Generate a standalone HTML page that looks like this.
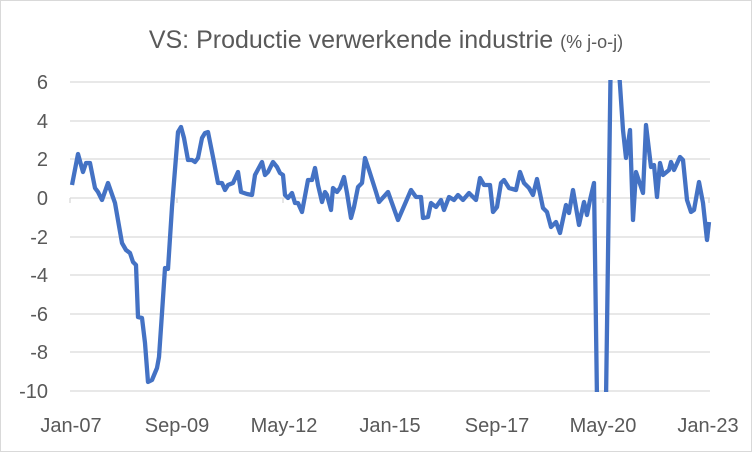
<!DOCTYPE html>
<html><head><meta charset="utf-8"><style>
html,body{margin:0;padding:0;background:#fff;overflow:hidden;width:752px;height:452px}
svg{display:block;font-family:"Liberation Sans",sans-serif}
</style></head><body>
<svg width="752" height="452" viewBox="0 0 752 452" xmlns="http://www.w3.org/2000/svg">
<rect x="0.5" y="0.5" width="751" height="451" fill="#fff" stroke="#d9d9d9"/>
<text x="386" y="48" text-anchor="middle" fill="#595959" font-size="25">VS: Productie verwerkende industrie <tspan font-size="18">(% j-o-j)</tspan></text>
<g stroke="#d9d9d9" stroke-width="1.3">
<line x1="70" x2="710" y1="82" y2="82"/><line x1="70" x2="710" y1="121" y2="121"/>
<line x1="70" x2="710" y1="159" y2="159"/><line x1="70" x2="710" y1="237" y2="237"/>
<line x1="70" x2="710" y1="275" y2="275"/><line x1="70" x2="710" y1="314" y2="314"/>
<line x1="70" x2="710" y1="352" y2="352"/><line x1="70" x2="710" y1="391" y2="391"/>
<line x1="70" x2="710" y1="198" y2="198"/>
<line x1="70" x2="70" y1="198" y2="203"/><line x1="177" x2="177" y1="198" y2="203"/>
<line x1="283" x2="283" y1="198" y2="203"/><line x1="390" x2="390" y1="198" y2="203"/>
<line x1="496" x2="496" y1="198" y2="203"/><line x1="603" x2="603" y1="198" y2="203"/>
<line x1="709" x2="709" y1="198" y2="203"/>
</g>
<g fill="#595959" font-size="20" text-anchor="end">
<text x="48" y="89">6</text><text x="48" y="128">4</text><text x="48" y="166">2</text>
<text x="48" y="205">0</text><text x="48" y="244">-2</text><text x="48" y="282">-4</text>
<text x="48" y="321">-6</text><text x="48" y="359">-8</text><text x="48" y="398">-10</text>
</g>
<g fill="#595959" font-size="20" text-anchor="middle">
<text x="71" y="432">Jan-07</text><text x="177" y="432">Sep-09</text><text x="284" y="432">May-12</text>
<text x="390" y="432">Jan-15</text><text x="497" y="432">Sep-17</text><text x="603" y="432">May-20</text>
<text x="708" y="432">Jan-23</text>
</g>
<defs><clipPath id="c"><rect x="60" y="80" width="660" height="312"/></clipPath></defs>
<polyline clip-path="url(#c)" fill="none" stroke="#4472C4" stroke-width="4.3" stroke-linejoin="round" points="
72,185 78,154 83,172 86,163 90,163 95,188 98,192 102,200 108,183 115,203 122,243 126,250 130,253 133,262 136,265 138,317 142,318 145,343 148,382 152,380 157,368 159,357 162,313 165,268 168,269 172,207 178,132 181,127 184,138 188,160 192,160 195,162 198,158 202,138 205,133 208,132 213,157 218,183 222,183 225,190 228,185 233,183 238,172 241,192 247,194 252,195 255,175 262,162 265,175 268,172 273,162 277,167 280,173 283,175 285,195 288,198 292,193 295,203 298,203 302,212 308,180 312,180 315,168 318,185 322,202 325,192 327,195 331,210 333,188 337,192 340,188 344,177 347,193 351,218 354,207 358,187 362,183 365,158 369,170 376,192 379,202 388,192 398,220 411,190 416,197 421,197 423,218 428,217 431,203 436,207 441,200 444,210 449,197 454,200 458,195 463,200 469,193 476,200 480,178 484,185 490,185 493,212 497,207 501,183 504,180 509,188 516,190 520,172 524,183 529,188 533,195 537,179 543,208 547,212 551,227 556,222 560,233 566,205 569,213 573,190 579,225 584,202 587,215 590,200 594,183 597,400 600,480 606,400 611,40 616,20 619,70 623,130 626,158 630,130 633,220 636,172 643,193 646,125 651,167 654,165 657,197 660,163 663,175 669,170 671,162 674,170 680,157 683,160 687,200 691,212 694,210 699,182 703,203 707,240 709,222"/>
</svg>
</body></html>
